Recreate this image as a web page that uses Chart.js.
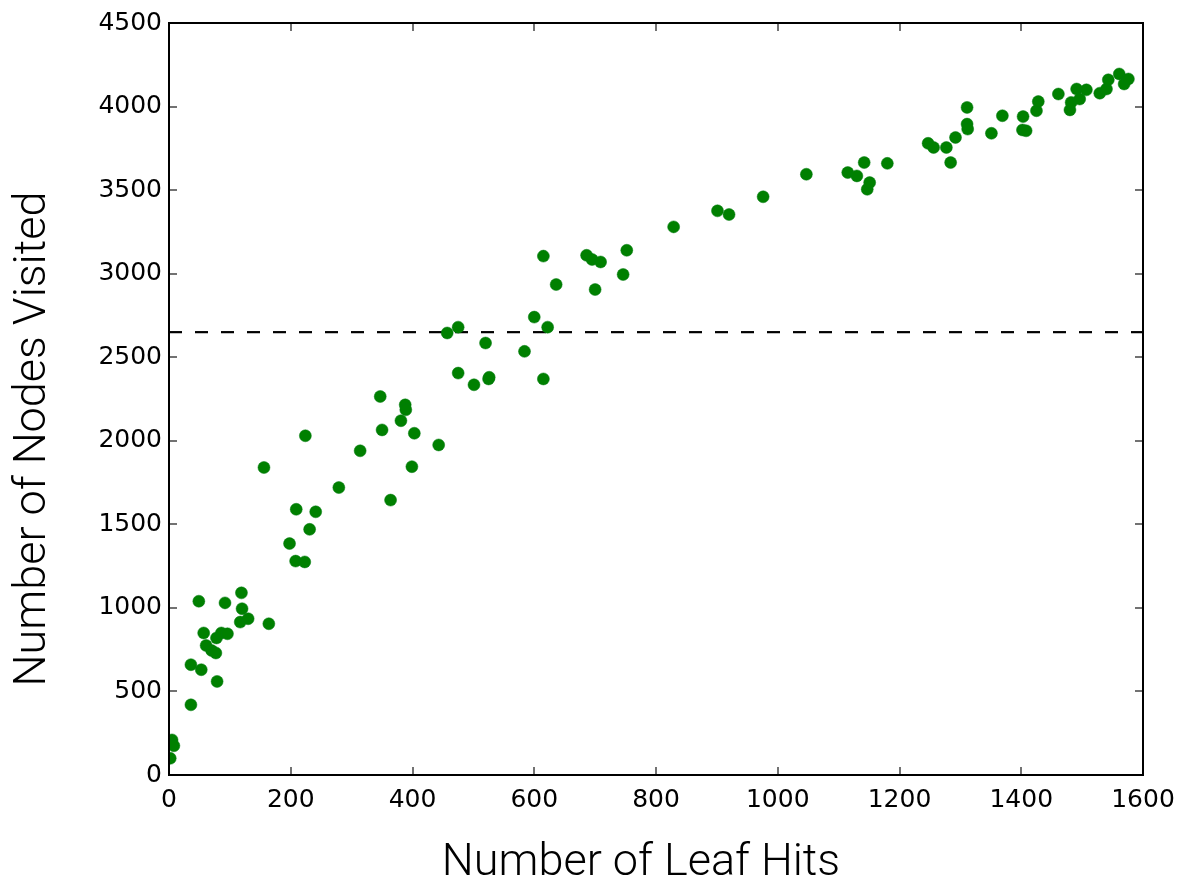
<!DOCTYPE html>
<html>
<head>
<meta charset="utf-8">
<script src="https://cdn.jsdelivr.net/npm/chart.js@4/dist/chart.umd.min.js"></script>
<style>
  html, body { margin: 0; padding: 0; background: #fff; }
  #wrap { width: 1185px; height: 882px; }
</style>
</head>
<body>
<div id="wrap"><canvas id="chart-scatter" width="1185" height="882"></canvas></div>
<script>
// leaf hits vs nodes visited

const leafHits = [
    2, 5, 8, 36, 36, 49, 53, 57, 61, 70, 77, 78, 79, 86, 92, 96, 117, 119, 120, 130,
    156, 164, 198, 208, 209, 223, 224, 231, 241, 279, 314, 347, 350, 364, 381, 388, 389, 399, 403, 443,
    457, 475, 475, 501, 520, 525, 526, 584, 600, 615, 615, 622, 636, 686, 695, 700, 709, 746, 752, 829,
    901, 920, 976, 1047, 1115, 1130, 1142, 1147, 1151, 1180, 1247, 1256, 1277, 1284, 1292, 1311, 1311, 1312,
    1351, 1369, 1402, 1403, 1408, 1425, 1428, 1461, 1480, 1482, 1491, 1496, 1507, 1529, 1540, 1543, 1561, 1569, 1576
];
const nodesVisited = [
    100, 210, 175, 420, 660, 1040, 630, 850, 775, 745, 730, 820, 560, 850, 1030, 845, 915, 1090, 995, 935,
    1840, 905, 1385, 1280, 1590, 1275, 2030, 1470, 1575, 1720, 1940, 2265, 2065, 1645, 2120, 2215, 2185, 1845, 2045, 1975,
    2645, 2680, 2405, 2335, 2585, 2370, 2380, 2535, 2740, 3105, 2370, 2680, 2935, 3110, 3085, 2905, 3070, 2995, 3140, 3280,
    3376, 3354, 3460, 3595, 3605, 3585, 3665, 3505, 3545, 3660, 3780, 3755, 3755, 3665, 3815, 3995, 3895, 3865,
    3840, 3945, 3860, 3940, 3855, 3975, 4030, 4075, 3980, 4025, 4105, 4045, 4100, 4080, 4105, 4160, 4195, 4135, 4165
];

// horizontal reference line
const refLineX = [0, 1600];
const refLineY = [2650, 2650];

const xTicks = [0, 200, 400, 600, 800, 1000, 1200, 1400, 1600];
const yTicks = [0, 500, 1000, 1500, 2000, 2500, 3000, 3500, 4000, 4500];

const xTitle = "Number of Leaf Hits";
const yTitle = "Number of Nodes Visited";

const tickFont = { family: "DejaVu Sans", size: 25 };
const titleFont = "300 45px Roboto";

// inside ticks on all four sides + black frame, like old matplotlib
const frameTicks = {
    id: "frameTicks",
    afterDatasetsDraw(chart) {
        const { ctx, chartArea: a, scales: { x, y } } = chart;
        ctx.save();
        ctx.strokeStyle = "#444";
        ctx.lineWidth = 1.5;
        ctx.beginPath();
        xTicks.forEach(v => {
            const px = Math.round(x.getPixelForValue(v));
            ctx.moveTo(px, a.bottom); ctx.lineTo(px, a.bottom - 8);
            ctx.moveTo(px, a.top); ctx.lineTo(px, a.top + 8);
        });
        yTicks.forEach(v => {
            const py = Math.round(y.getPixelForValue(v));
            ctx.moveTo(a.left, py); ctx.lineTo(a.left + 8, py);
            ctx.moveTo(a.right, py); ctx.lineTo(a.right - 8, py);
        });
        ctx.stroke();
        ctx.strokeStyle = "#000";
        ctx.lineWidth = 2;
        ctx.strokeRect(a.left, a.top, a.right - a.left, a.bottom - a.top);
        ctx.restore();
    }
};

// axis titles (the original sits a bit off-centre)
const axisTitles = {
    id: "axisTitles",
    afterDraw(chart) {
        const { ctx, chartArea: a } = chart;
        ctx.save();
        ctx.fillStyle = "#000";
        ctx.font = titleFont;
        ctx.textAlign = "center";
        ctx.textBaseline = "alphabetic";
        ctx.fillText(xTitle, (a.left + a.right) / 2 - 15, chart.height - 7);
        ctx.translate(45, (a.top + a.bottom) / 2 + 40);
        ctx.rotate(-Math.PI / 2);
        ctx.fillText(yTitle, 0, 0);
        ctx.restore();
    }
};

const ctx = document.getElementById("chart-scatter").getContext("2d");
new Chart(ctx, {
    type: "scatter",
    data: {
        datasets: [
            {
                label: "runs",
                data: leafHits.map((v, i) => ({ x: v, y: nodesVisited[i] })),
                backgroundColor: "#008000",
                borderColor: "#007a10",
                borderWidth: 0.5,
                pointRadius: 6,
                pointHoverRadius: 6
            },
            {
                type: "line",
                label: "threshold",
                data: refLineX.map((v, i) => ({ x: v, y: refLineY[i] })),
                borderColor: "#000",
                borderWidth: 2.2,
                borderDash: [13, 13],
                pointRadius: 0,
                fill: false
            }
        ]
    },
    options: {
        responsive: false,
        animation: false,
        layout: { padding: { top: 23, right: 42, left: 0, bottom: 0 } },
        plugins: {
            legend: { display: false },
            tooltip: { enabled: false }
        },
        scales: {
            x: {
                type: "linear",
                min: 0,
                max: 1600,
                afterBuildTicks: s => { s.ticks = xTicks.map(v => ({ value: v })); },
                afterFit: s => { s.height = 107; },
                grid: { display: false, drawTicks: false },
                border: { display: false },
                ticks: { color: "#000", font: tickFont, padding: 10, maxRotation: 0, callback: v => String(v) }
            },
            y: {
                type: "linear",
                min: 0,
                max: 4500,
                afterBuildTicks: s => { s.ticks = yTicks.map(v => ({ value: v })); },
                afterFit: s => { s.width = 169; },
                grid: { display: false, drawTicks: false },
                border: { display: false },
                ticks: { color: "#000", font: tickFont, padding: 7, callback: v => String(v) }
            }
        }
    },
    plugins: [frameTicks, axisTitles]
});
</script>
</body>
</html>
